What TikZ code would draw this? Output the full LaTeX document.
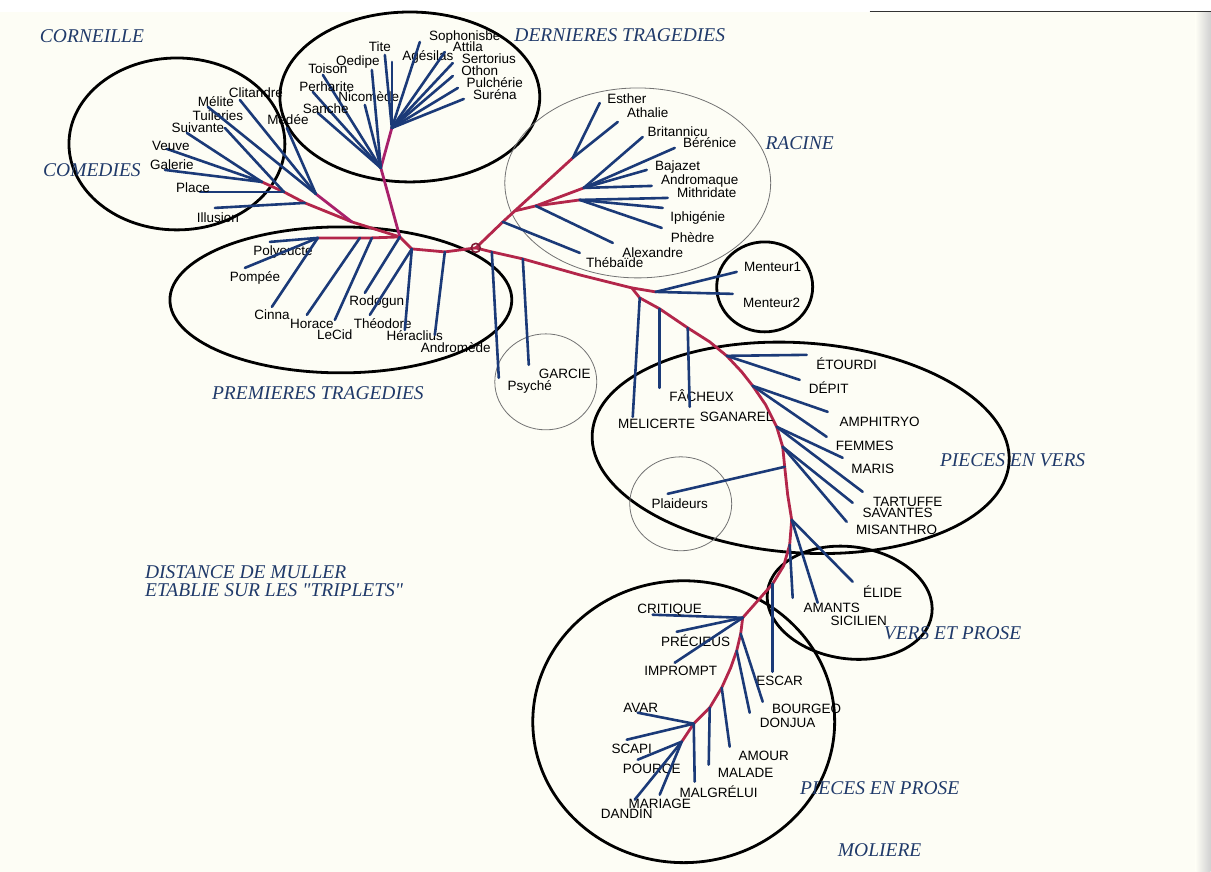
\documentclass[tikz,border=0pt]{standalone}
\usepackage{fontspec}
\newfontfamily\leaffont{Liberation Sans}
\newfontfamily\grpfont{Liberation Serif}
\usetikzlibrary{shapes.geometric}

\definecolor{navy}{HTML}{1B3A78}
\definecolor{wine}{HTML}{B3264A}
\definecolor{plum}{HTML}{A8206A}
\definecolor{ink}{HTML}{203A6A}
\definecolor{paper}{HTML}{FDFDF5}

\tikzset{
  stem/.style={wine, line width=2.8pt, line join=round, line cap=round},
  twig/.style={navy, line width=2.6pt, line cap=round},
  leaf/.style={font=\leaffont\fontsize{13.5}{15}\selectfont, inner sep=0pt},
  grp/.style={draw, line width=2.8pt, ellipse, inner sep=0pt},
  ring/.style={draw=black!55, line width=0.8pt, ellipse, inner sep=0pt},
  title/.style={font=\grpfont\itshape\fontsize{19.5}{22}\selectfont, text=ink, inner sep=0pt},
}

\begin{document}
\begin{tikzpicture}[x=1pt,y=-1pt]
\fill[white] (0,0) rectangle (1211,872);
\fill[paper] (0,12) rectangle (1211,872);
\shade[left color=paper, right color=black!18] (1196,12) rectangle (1211,872);
\draw[black!80, line width=1pt] (870,12) -- (1211,12);
\useasboundingbox (0,0) rectangle (1211,872);

% groups
\node[grp, minimum width=216pt, minimum height=172pt] (comedies) at (177,144) {};
\node[grp, minimum width=260pt, minimum height=170pt] (dernieres) at (410,97) {};
\node[ring, minimum width=266pt, minimum height=190pt] (racine) at (638,183) {};
\node[grp, minimum width=342pt, minimum height=146pt] (premieres) at (341,300) {};
\node[ring, minimum width=102pt, minimum height=96pt] (garcie) at (546,382) {};
\node[grp, minimum width=96pt, minimum height=90pt] (menteur) at (765,287) {};
\node[grp, minimum width=418pt, minimum height=210pt, rotate=-4] (vers) at (801,448) {};
\node[ring, minimum width=102pt, minimum height=94pt] (plaideurs) at (681,504) {};
\node[grp, minimum width=166pt, minimum height=112pt, rotate=-8] (versprose) at (850,603) {};
\node[grp, minimum width=302pt, minimum height=282pt] (prose) at (684,722) {};

% junctions
\coordinate (C) at (476,248);
\coordinate (k1) at (445,252);
\coordinate (k2) at (412,249);
\coordinate (k3) at (400,237);
\coordinate (p1) at (372,238);
\coordinate (p2) at (360,238);
\coordinate (pg) at (318,238);
\coordinate (cA) at (352,222);
\coordinate (cB) at (305,203);
\coordinate (cC) at (284,192);
\coordinate (cD) at (262,182);
\coordinate (cM) at (316,194);
\coordinate (d1) at (381,168);
\coordinate (d2) at (392,128);
\coordinate (r1) at (503,222);
\coordinate (r2) at (515,211);
\coordinate (r3) at (573,158);
\coordinate (r4) at (536,206);
\coordinate (r5) at (580,200);
\coordinate (r6) at (584,188);
\coordinate (m1) at (492,252);
\coordinate (m2) at (523,259);
\coordinate (m3) at (580,275);
\coordinate (m4) at (632,288);
\coordinate (men) at (656,292);
\coordinate (s1) at (640,298);
\coordinate (s2) at (660,309);
\coordinate (s3) at (688,328);
\coordinate (s4) at (710,342);
\coordinate (v1) at (727,356);
\coordinate (s5) at (742,372);
\coordinate (v2) at (753,386);
\coordinate (s6) at (766,405);
\coordinate (v3) at (777,427);
\coordinate (v4) at (783,447);
\coordinate (v5) at (785,467);
\coordinate (s7) at (788,495);
\coordinate (vp) at (792,520);
\coordinate (s8) at (790,545);
\coordinate (s9) at (784,566);
\coordinate (es) at (773,584);
\coordinate (s10) at (758,601);
\coordinate (q1) at (743,618);
\coordinate (q2) at (741,634);
\coordinate (q3) at (737,651);
\coordinate (s11) at (731,668);
\coordinate (q4) at (722,688);
\coordinate (q5) at (710,708);
\coordinate (q6) at (694,724);
\coordinate (q8) at (682,742);

% inner branches
\draw[stem] (C) -- (m1) -- (m2) -- (m3) -- (m4) -- (s1) -- (s2) -- (s3) -- (s4) -- (v1) -- (s5)
  -- (v2) -- (s6) -- (v3) -- (v4) -- (v5) -- (s7) -- (vp) -- (s8) -- (s9) -- (es) -- (s10)
  -- (q1) -- (q2) -- (q3) -- (s11) -- (q4) -- (q5) -- (q6) -- (q8);
\draw[stem] (m4) -- (men);
\draw[stem] (C) -- (k1) -- (k2) -- (k3) -- (p1) -- (p2) -- (pg);
\draw[stem] (k3) -- (cA) -- (cB) -- (cC) -- (cD);
\draw[stem, plum] (cA) -- (cM);
\draw[stem, plum] (k3) -- (d1) -- (d2);
\draw[stem] (C) -- (r1) -- (r2) -- (r3);
\draw[stem] (r2) -- (r4) -- (r5);
\draw[stem] (r4) -- (r6);

% leaves: junction / end / label
\foreach \j/\ex/\ey/\lx/\ly/\txt [count=\n] in {
  cD/187/133/198/128/Suivante, cD/167/149/171/146/Veuve, cD/165/170/172/165/Galerie,
  cC/225/128/218/116/Tuileries, cC/200/192/193/188/Place, cB/215/208/218/218/Illusion,
  cM/240/100/256/93/Clitandre, cM/208/107/216/102/Mélite, cM/287/128/288/120/Médée,
  d1/323/75/328/69/Toison, d1/313/92/327/87/Perharite, d1/318/113/326/109/Sanche,
  d1/365/105/369/97/Nicomède, d1/372/70/358/62/Oedipe,
  d2/385/55/380/47/Tite, d2/392/62/428/57/Agésilas, d2/420/42/465/37/Sophonisbe,
  d2/445/52/468/47/Attila, d2/453/63/489/59/Sertorius, d2/453/76/480/71/Othon,
  d2/458/88/495/83/Pulchérie, d2/464/99/495/95/Suréna,
  pg/270/242/283/252/Polyeucte, pg/245/268/255/278/Pompée, pg/272/307/272/315/Cinna,
  p2/307/315/312/324/Horace, p1/335/320/335/335/LeCid, k3/365/293/377/302/Rodogun,
  k2/370/315/383/324/Théodore, k2/405/330/415/336/Héraclius, k1/435/335/456/348/Andromède}
{
  \coordinate (ce\n) at (\ex,\ey);
  \draw[twig] (\j) -- (ce\n);
  \node[leaf] (cl\n) at (\lx,\ly) {\txt};
}

\foreach \j/\ex/\ey/\lx/\ly/\txt [count=\n] in {
  r1/580/253/615/263/Thébaïde, r4/613/243/653/253/Alexandre,
  r5/662/228/693/238/Phèdre, r5/663/208/698/218/Iphigénie, r5/668/198/707/193/Mithridate,
  r6/652/186/700/181/Andromaque, r6/647/170/678/167/Bajazet,
  r6/675/148/710/143/Bérénice, r6/643/137/678/132/Britannicu,
  r3/600/103/627/99/Esther, r3/618/122/648/113/Athalie}
{
  \coordinate (re\n) at (\ex,\ey);
  \draw[twig] (\j) -- (re\n);
  \node[leaf] (rl\n) at (\lx,\ly) {\txt};
}

\foreach \j/\ex/\ey/\lx/\ly/\txt [count=\n] in {
  m1/499/378/530/387/Psyché, m2/529/365/565/374/GARCIE,
  men/737/272/773/267/Menteur1, men/733/294/772/303/Menteur2,
  s1/633/417/657/424/MELICERTE, s2/660/388/702/396/FÂCHEUX, s3/690/407/737/417/SGANAREL,
  v1/807/355/847/364/ÉTOURDI, v1/800/380/829/388/DÉPIT,
  v2/828/412/880/422/AMPHITRYO, v2/827/437/865/446/FEMMES,
  v3/843/458/873/469/MARIS, v3/863/492/908/502/TARTUFFE,
  v4/853/503/898/513/SAVANTES, v4/847/522/897/530/MISANTHRO,
  v5/668/494/680/504/Plaideurs,
  vp/853/582/883/592/ÉLIDE, vp/818/603/832/608/AMANTS, s8/793/598/859/621/SICILIEN,
  es/773/672/780/681/ESCAR,
  q1/653/615/670/610/CRITIQUE, q1/677/632/696/641/PRÉCIEUS, q1/675/663/681/671/IMPROMPT,
  q2/763/702/807/709/BOURGEO, q3/750/713/788/723/DONJUA,
  q4/730/747/764/756/AMOUR, q5/709/765/746/773/MALADE,
  q6/638/713/641/708/AVAR, q6/627/740/632/749/SCAPI, q6/695/782/719/792/MALGRÉLUI,
  q8/638/760/652/769/POURCE, q8/660/795/660/804/MARIAGE, q8/635/800/627/814/DANDIN}
{
  \coordinate (me\n) at (\ex,\ey);
  \draw[twig] (\j) -- (me\n);
  \node[leaf] (ml\n) at (\lx,\ly) {\txt};
}

\node[circle, draw=wine!70!black, line width=1.6pt, minimum size=9pt, inner sep=0pt] (root) at (C) {};

% group titles
\node[title] (tCorneille) at (92,36) {CORNEILLE};
\node[title] (tComedies) at (92,170) {COMEDIES};
\node[title] (tDernieres) at (620,35) {DERNIERES TRAGEDIES};
\node[title] (tRacine) at (800,143) {RACINE};
\node[title] (tPremieres) at (318,393) {PREMIERES TRAGEDIES};
\node[title] (tVers) at (1013,460) {PIECES EN VERS};
\node[title] (tVersProse) at (953,633) {VERS ET PROSE};
\node[title] (tProse) at (880,788) {PIECES EN PROSE};
\node[title] (tMoliere) at (880,850) {MOLIERE};
\node[title, anchor=west] (tDistance) at (145,572) {DISTANCE DE MULLER};
\node[title, anchor=west] (tTriplets) at (145,590) {ETABLIE SUR LES "TRIPLETS"};
\end{tikzpicture}
\end{document}
